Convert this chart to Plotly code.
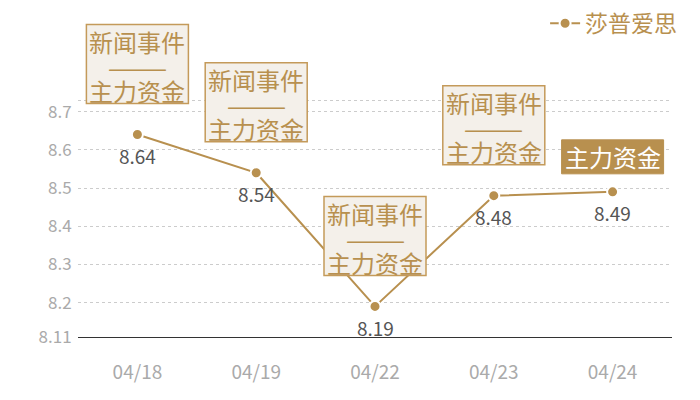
import plotly.graph_objects as go

dates = ["04/18", "04/19", "04/22", "04/23", "04/24"]
prices = [8.64, 8.54, 8.19, 8.48, 8.49]
notes = ["新闻事件|———|主力资金", "新闻事件|———|主力资金", "新闻事件|———|主力资金",
         "新闻事件|———|主力资金", "主力资金"]
y_ticks = [8.11, 8.2, 8.3, 8.4, 8.5, 8.6, 8.7, 8.73]
y_labels = ["8.11", "8.2", "8.3", "8.4", "8.5", "8.6", "8.7", ""]

gold = "#b8904f"
font = "Noto Sans CJK SC"

fig = go.Figure()
fig.add_trace(go.Scatter(
    x=dates, y=prices, name="莎普爱思", mode="lines+markers",
    line=dict(color=gold, width=2),
    marker=dict(color=gold, size=11, line=dict(color="white", width=2)),
    cliponaxis=False,
))

shapes = []
annotations = []
for i, (p, note) in enumerate(zip(prices, notes)):
    # value label under the point
    annotations.append(dict(x=i, y=p, xref="x", yref="y", text=f"{p:.2f}", showarrow=False,
                            yshift=-21, yanchor="middle",
                            font=dict(family=font, size=19, color="#555555")))
    lines = note.split("|")
    if len(lines) == 3:
        # boxed note: news / main-force fund
        shapes.append(dict(type="rect", xref="x", yref="y", layer="above",
                           xsizemode="pixel", ysizemode="pixel", xanchor=i, yanchor=p,
                           x0=-51, x1=51, y0=31, y1=110,
                           fillcolor="#f4f0ea", line=dict(color="#c49a5a", width=1.5)))
        for txt, shift in zip(lines, [93, 68, 44]):
            annotations.append(dict(x=i, y=p, xref="x", yref="y", text=txt, showarrow=False,
                                    yshift=shift, yanchor="middle",
                                    font=dict(family=font, size=24, color=gold)))
    else:
        shapes.append(dict(type="rect", xref="x", yref="y", layer="above",
                           xsizemode="pixel", ysizemode="pixel", xanchor=i, yanchor=p,
                           x0=-51, x1=51, y0=18, y1=52,
                           fillcolor=gold, line=dict(color=gold, width=1)))
        annotations.append(dict(x=i, y=p, xref="x", yref="y", text=lines[0], showarrow=False,
                                yshift=35, yanchor="middle",
                                font=dict(family=font, size=24, color="white")))

fig.update_layout(
    width=700, height=400,
    margin=dict(l=70, r=36, t=2, b=71, autoexpand=False),
    plot_bgcolor="white", paper_bgcolor="white",
    font=dict(family=font),
    shapes=shapes, annotations=annotations,
    showlegend=True,
    legend=dict(x=1.017, xanchor="right", y=1.025, yanchor="top",
                font=dict(family=font, size=23, color=gold),
                itemwidth=30, bgcolor="rgba(0,0,0,0)"),
)
fig.update_xaxes(
    type="category", showgrid=False, showline=True, linecolor="#333", linewidth=1.2,
    ticks="outside", ticklen=18, tickcolor="rgba(0,0,0,0)",
    tickfont=dict(family=font, size=19, color="#aaaaaa"),
    range=[-0.5, 4.5], automargin=False,
)
fig.update_yaxes(
    range=[8.11, 8.966], tickvals=y_ticks, ticktext=y_labels,
    showgrid=True, gridcolor="#cccccc", griddash="dot", gridwidth=1,
    zeroline=False, ticks="outside", ticklen=2, tickcolor="rgba(0,0,0,0)",
    tickfont=dict(family=font, size=17, color="#aaaaaa"), automargin=False,
)

fig.write_html("out.html")
